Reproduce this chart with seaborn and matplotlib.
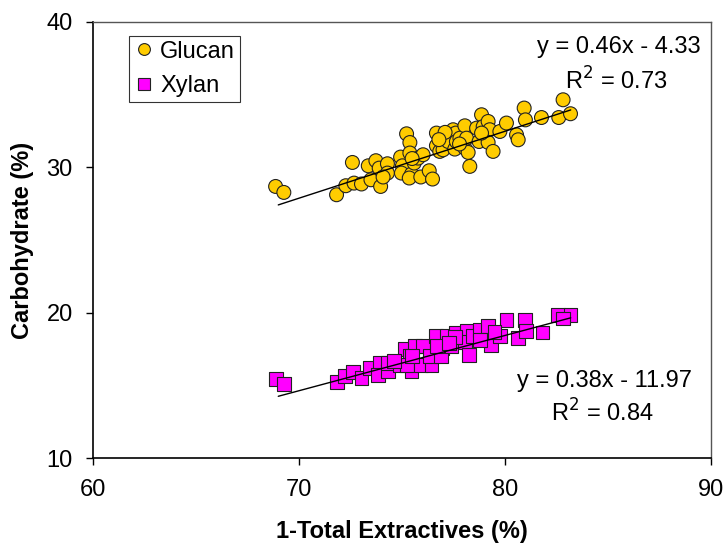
import numpy as np
import pandas as pd
import matplotlib
matplotlib.use("Agg")
import matplotlib.pyplot as plt
import seaborn as sns

# Glucan content vs. 1 - total extractives (%)
glucan_x = [68.87, 69.27, 71.83, 72.28, 72.60, 72.68, 73.04, 73.50, 73.37, 73.74,
            73.97, 73.90, 74.30, 74.30, 74.09, 74.94, 75.23, 75.39, 75.39, 75.03,
            74.98, 75.47, 75.60, 75.79, 76.03, 75.36, 75.92, 76.33, 76.49, 76.68,
            76.68, 76.84, 77.00, 77.17, 77.25, 77.49, 77.62, 77.57, 77.65, 77.82,
            78.06, 78.06, 78.14, 78.22, 78.30, 78.63, 78.75, 78.87, 78.95, 79.19,
            79.27, 79.19, 79.43, 79.76, 80.08, 80.57, 80.65, 80.94, 81.00, 81.78,
            82.62, 82.83, 83.19, 78.87, 77.10, 77.80, 76.80, 75.50]
glucan_y = [28.68, 28.27, 28.11, 28.73, 30.33, 28.91, 28.85, 29.14, 30.10, 30.45,
            28.68, 29.94, 30.24, 29.60, 29.33, 30.70, 32.30, 31.70, 30.98, 30.10,
            29.60, 29.53, 30.29, 30.63, 30.86, 29.26, 29.33, 29.76, 29.19, 32.35,
            31.48, 31.09, 31.20, 32.23, 31.77, 32.58, 32.35, 31.25, 31.77, 32.00,
            32.85, 31.32, 32.00, 31.02, 30.06, 32.69, 31.77, 33.61, 32.80, 33.15,
            32.58, 31.71, 31.09, 32.46, 33.04, 32.23, 31.89, 34.07, 33.26, 33.42,
            33.42, 34.64, 33.68, 32.35, 32.40, 31.60, 31.90, 30.60]

# Xylan content vs. 1 - total extractives (%)
xylan_x = [68.87, 69.27, 71.83, 72.23, 72.64, 73.04, 73.45, 73.93, 73.85, 74.34,
           74.34, 74.90, 75.15, 75.39, 75.47, 75.23, 75.63, 76.03, 75.95, 76.44,
           76.36, 76.68, 76.97, 76.92, 77.17, 77.41, 77.65, 78.14, 78.06, 78.27,
           78.47, 78.79, 79.19, 79.35, 79.76, 80.08, 80.65, 80.97, 81.05, 81.83,
           82.59, 83.19, 82.83, 75.50, 76.70, 77.60, 78.80, 79.50, 77.30, 74.60]
xylan_y = [15.44, 15.12, 15.21, 15.67, 15.90, 15.51, 16.20, 16.54, 15.74, 15.97,
           16.54, 16.43, 17.50, 17.00, 16.01, 16.40, 17.68, 17.68, 16.43, 16.43,
           17.00, 18.37, 17.57, 17.00, 18.37, 17.68, 18.60, 18.71, 18.00, 17.11,
           18.37, 18.83, 19.06, 17.80, 18.37, 19.52, 18.26, 19.52, 18.71, 18.64,
           19.86, 19.86, 19.60, 17.00, 17.68, 18.30, 18.10, 18.70, 17.90, 16.70]

series_names = ["Glucan", "Xylan"]
slopes = [0.46, 0.38]
intercepts = [-4.33, -11.97]
r_squared = [0.73, 0.84]
fit_range = [69.0, 83.2]

df = pd.concat([
    pd.DataFrame({"x": glucan_x, "y": glucan_y, "series": "Glucan"}),
    pd.DataFrame({"x": xylan_x, "y": xylan_y, "series": "Xylan"}),
], ignore_index=True)

sns.set_theme(style="white")
plt.rcParams["font.family"] = ["Liberation Sans", "DejaVu Sans"]
plt.rcParams["text.color"] = "black"
plt.rcParams["axes.labelcolor"] = "black"

fig = plt.figure(figsize=(7.26, 5.46), dpi=100)
ax = fig.add_axes([0.128, 0.161, 0.851, 0.799])

sns.scatterplot(
    data=df, x="x", y="y", hue="series", style="series",
    hue_order=series_names, style_order=series_names,
    palette={"Glucan": "#FFCC00", "Xylan": "#FF00FF"},
    markers={"Glucan": "o", "Xylan": "s"},
    s=100, edgecolor="#222222", linewidth=0.8, ax=ax, zorder=3,
)

# Linear trend lines from the fitted equations
xs = np.array(fit_range)
for m, b in zip(slopes, intercepts):
    ax.plot(xs, m * xs + b, color="black", linewidth=1.0, zorder=4)

# Equation annotations
fs = 17
ax.text(89.5, 38.25, f"y = {slopes[0]:.2f}x - {abs(intercepts[0]):.2f}",
        ha="right", va="center", fontsize=fs)
ax.text(87.9, 35.95, f"R$^2$ = {r_squared[0]:.2f}", ha="right", va="center", fontsize=fs)
ax.text(89.1, 15.3, f"y = {slopes[1]:.2f}x - {abs(intercepts[1]):.2f}",
        ha="right", va="center", fontsize=fs)
ax.text(87.25, 13.1, f"R$^2$ = {r_squared[1]:.2f}", ha="right", va="center", fontsize=fs)

ax.set_xlim(60, 90)
ax.set_ylim(10, 40)
ax.set_xticks([60, 70, 80, 90])
ax.set_yticks([10, 20, 30, 40])
ax.tick_params(axis="both", direction="out", length=5, width=1, labelsize=fs,
               bottom=True, left=True, colors="black")
ax.tick_params(axis="x", pad=10)
ax.tick_params(axis="y", pad=9.5)
ax.set_xlabel("1-Total Extractives (%)", fontsize=fs, fontweight="bold", labelpad=14)
ax.set_ylabel("Carbohydrate (%)", fontsize=fs, fontweight="bold", labelpad=9)

for side in ["left", "bottom"]:
    ax.spines[side].set_color("black")
    ax.spines[side].set_linewidth(1.2)
for side in ["top", "right"]:
    ax.spines[side].set_color("#555555")
    ax.spines[side].set_linewidth(1.0)

leg = ax.legend(loc="upper left", bbox_to_anchor=(0.0587, 0.9686), borderaxespad=0,
                fontsize=fs, frameon=True, fancybox=False, edgecolor="black",
                handletextpad=0.3, borderpad=0.22, labelspacing=0.52,
                handlelength=0.8, markerscale=0.85)
leg.get_frame().set_linewidth(0.8)

fig.savefig("out.png", dpi=100)
